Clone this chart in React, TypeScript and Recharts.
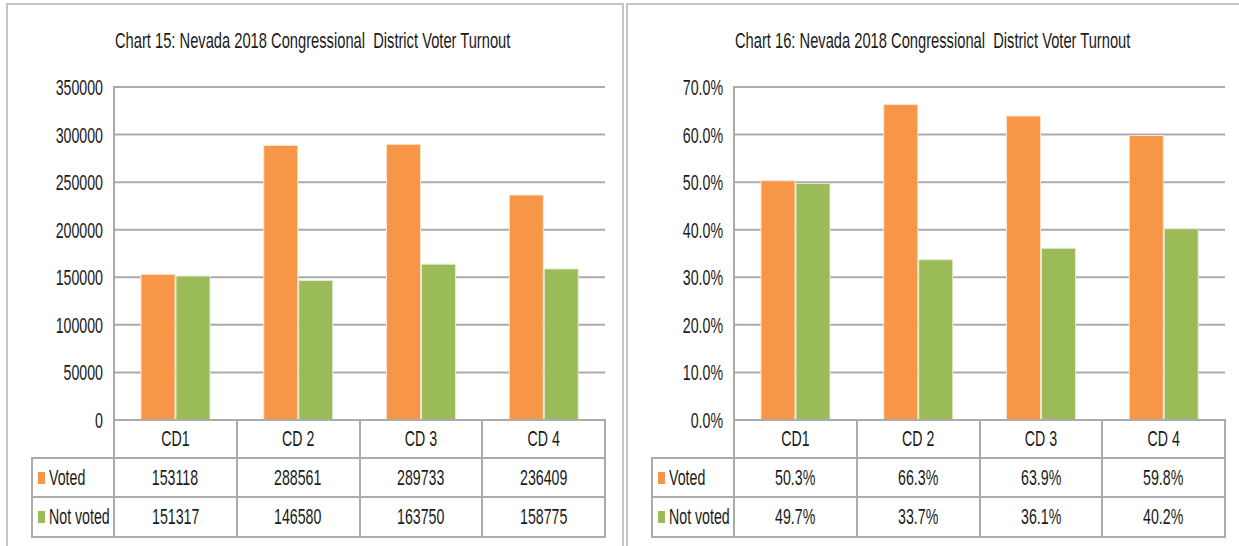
import { BarChart, Bar, XAxis, YAxis, CartesianGrid } from 'recharts';

const categories = ['CD1', 'CD 2', 'CD 3', 'CD 4'];
const countVoted = [153118, 288561, 289733, 236409];
const countNotVoted = [151317, 146580, 163750, 158775];
const pctVoted = [50.3, 66.3, 63.9, 59.8];
const pctNotVoted = [49.7, 33.7, 36.1, 40.2];
const countTicks = [0, 50000, 100000, 150000, 200000, 250000, 300000, 350000];
const pctTicks = [0, 10, 20, 30, 40, 50, 60, 70];

const FONT = '"Liberation Sans", Arial, sans-serif';
const FS = 22;
const SX = 0.645; // squeeze to mimic the narrow source font
const ORANGE = '#F79646';
const GREEN = '#9BBB59';
const LINE = '#ababab';
const TEXT = '#1a1a1a';

// panel-local layout
const PLOT_L = 114;
const PLOT_R = 605;
const PLOT_T = 87;
const PLOT_B = 420;
const TBL_L = 32;
const ROW_Y = [PLOT_B, 458, 497, 537];
const COL_W = (PLOT_R - PLOT_L) / 4;

const Narrow = ({ children, origin = 'left center', sx = SX }: { children: any; origin?: string; sx?: number }) => (
  <span style={{ display: 'inline-block', transform: `scaleX(${sx})`, transformOrigin: origin, whiteSpace: 'pre' }}>{children}</span>
);

const YTick = (fmt: (v: number) => string) => (props: any) => {
  const { x, y, payload } = props;
  return (
    <g transform={`translate(${x},${y})`}>
      <text transform={`scale(${SX},1)`} textAnchor="end" dy="0.36em" fontSize={FS} fill={TEXT} fontFamily={FONT}>
        {fmt(payload.value)}
      </text>
    </g>
  );
};

const XTick = (props: any) => {
  const { x, y, payload } = props;
  return (
    <g transform={`translate(${x},${y})`}>
      <text transform={`scale(${SX},1)`} textAnchor="middle" dy="0.72em" fontSize={FS} fill={TEXT} fontFamily={FONT}>
        {payload.value}
      </text>
    </g>
  );
};

interface PanelProps {
  x: number;
  title: string;
  voted: number[];
  notVoted: number[];
  ticks: number[];
  fmt: (v: number) => string;
}

function Panel({ x, title, voted, notVoted, ticks, fmt }: PanelProps) {
  const data = categories.map((name, i) => ({ name, voted: voted[i], notVoted: notVoted[i] }));
  const hLine = (y: number, x1: number, x2: number, key: string) => (
    <div key={key} style={{ position: 'absolute', left: x1 - 1, top: y - 1, width: x2 - x1 + 2, height: 2, background: LINE }} />
  );
  const vLine = (xx: number, y1: number, y2: number, key: string) => (
    <div key={key} style={{ position: 'absolute', left: xx - 1, top: y1 - 1, width: 2, height: y2 - y1 + 2, background: LINE }} />
  );
  const rows = [
    { label: 'Voted', color: ORANGE, values: voted },
    { label: 'Not voted', color: GREEN, values: notVoted },
  ];

  return (
    <div style={{ position: 'absolute', left: x, top: 0, width: 620, height: 546, fontFamily: FONT, color: TEXT, fontSize: FS }}>
      <div style={{ position: 'absolute', left: 115, top: 27, lineHeight: '28px' }}>
        <Narrow sx={0.668}>{title}</Narrow>
      </div>
      <div style={{ position: 'absolute', left: 0, top: 0 }}>
        <BarChart width={620} height={460} data={data} margin={{ top: PLOT_T, right: 620 - PLOT_R, left: 0, bottom: 0 }} barCategoryGap={27} barGap={1}>
          <CartesianGrid vertical={false} stroke={LINE} strokeWidth={2} />
          <XAxis dataKey="name" height={40} axisLine={false} tickLine={false} tickSize={0} tickMargin={10} interval={0} tick={XTick} />
          <YAxis width={PLOT_L} domain={[0, ticks[ticks.length - 1]]} ticks={ticks} interval={0} axisLine={false} tickLine={false}
            tickSize={0} tickMargin={11} tick={YTick(fmt)} />
          <Bar dataKey="voted" fill={ORANGE} stroke="#fde3cc" strokeWidth={1} isAnimationActive={false} />
          <Bar dataKey="notVoted" fill={GREEN} stroke="#e3ecd3" strokeWidth={1} isAnimationActive={false} />
        </BarChart>
      </div>
      {vLine(PLOT_L, PLOT_T, ROW_Y[3], 'axis')}
      {hLine(ROW_Y[0], PLOT_L, PLOT_R, 'h0')}
      {ROW_Y.slice(1).map((y, i) => hLine(y, TBL_L, PLOT_R, 'h' + (i + 1)))}
      {vLine(TBL_L, ROW_Y[1], ROW_Y[3], 'vl')}
      {categories.map((_, i) => vLine(PLOT_L + COL_W * (i + 1), ROW_Y[0], ROW_Y[3], 'v' + i))}
      {rows.map((r, ri) => {
        const top = ROW_Y[ri + 1];
        const h = ROW_Y[ri + 2] - top;
        return (
          <div key={r.label}>
            <div style={{ position: 'absolute', left: 38, top: top + h / 2 - 6, width: 7, height: 12, background: r.color }} />
            <div style={{ position: 'absolute', left: 49, top, height: h, lineHeight: `${h}px`, whiteSpace: 'nowrap' }}>
              <Narrow>{r.label}</Narrow>
            </div>
            {r.values.map((v, ci) => (
              <div key={ci} style={{ position: 'absolute', left: PLOT_L + COL_W * ci, width: COL_W, top, height: h, lineHeight: `${h}px`, textAlign: 'center' }}>
                <Narrow origin="center center">{fmt(v)}</Narrow>
              </div>
            ))}
          </div>
        );
      })}
    </div>
  );
}

export default function App() {
  return (
    <div style={{ position: 'absolute', left: 0, top: 0, width: 1239, height: 546, overflow: 'hidden', background: '#fff' }}>
      <div style={{ position: 'absolute', left: 6, top: 3, width: 614, height: 600, border: '2px solid #c4c4c4' }} />
      <div style={{ position: 'absolute', left: 626, top: 3, width: 700, height: 600, border: '2px solid #c4c4c4' }} />
      <Panel x={0} title="Chart 15: Nevada 2018 Congressional  District Voter Turnout" voted={countVoted} notVoted={countNotVoted}
        ticks={countTicks} fmt={(v) => String(v)} />
      <Panel x={620} title="Chart 16: Nevada 2018 Congressional  District Voter Turnout" voted={pctVoted} notVoted={pctNotVoted}
        ticks={pctTicks} fmt={(v) => `${v.toFixed(1)}%`} />
    </div>
  );
}
